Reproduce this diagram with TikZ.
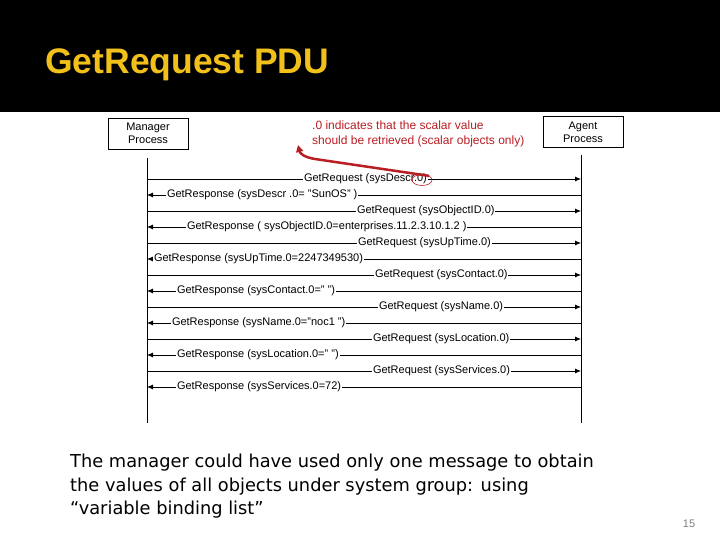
\documentclass[tikz,border=0pt]{standalone}
\usepackage{fontspec}
\setmainfont{Liberation Sans}
\newfontfamily\comicf{DejaVu Sans}
\usetikzlibrary{arrows.meta,shapes.geometric}
\definecolor{titleyellow}{RGB}{242,192,26}
\definecolor{annred}{RGB}{185,30,35}
\begin{document}
\begin{tikzpicture}[x=1pt,y=-1pt,
 box/.style={draw, line width=0.8pt, minimum width=80pt, minimum height=31pt, font=\fontsize{11}{13}\selectfont, align=center, inner sep=1pt},
 life/.style={line width=0.9pt},
 msg/.style={line width=0.8pt, -{Latex[length=6pt,width=5pt]}},
 lbl/.style={fill=white, inner sep=0.8pt, font=\fontsize{11}{13}\selectfont, anchor=west},
]
\useasboundingbox (0,0) rectangle (720,540);
\fill[white] (0,0) rectangle (720,540);
\fill[black] (0,0) rectangle (720,112);
\node[anchor=base west, text=titleyellow, font=\fontsize{35.5}{38}\selectfont\bfseries, inner sep=0] (title) at (45,74) {GetRequest PDU};

\node[box] (mgr) at (148,133.5) {Manager\\Process};
\node[box] (agt) at (583,132) {Agent\\Process};
\coordinate (mtop) at (147,158);
\coordinate (mbot) at (147,423);
\coordinate (atop) at (581,155);
\coordinate (abot) at (581,423);
\draw[life] (mtop) -- (mbot);
\draw[life] (atop) -- (abot);

\foreach \k/\y/\qa/\qb/\pa/\pb in {
 1/179/303/{GetRequest (sysDescr.0)}/166/{GetResponse (sysDescr .0= "SunOS" )},
 2/211/356/{GetRequest (sysObjectID.0)}/186/{GetResponse ( sysObjectID.0=enterprises.11.2.3.10.1.2 )},
 3/243/357/{GetRequest (sysUpTime.0)}/153/{GetResponse (sysUpTime.0=2247349530)},
 4/275/374/{GetRequest (sysContact.0)}/176/{GetResponse (sysContact.0=" ")},
 5/307/378/{GetRequest (sysName.0)}/171/{GetResponse (sysName.0="noc1 ")},
 6/339/372/{GetRequest (sysLocation.0)}/176/{GetResponse (sysLocation.0=" ")},
 7/371/372/{GetRequest (sysServices.0)}/176/{GetResponse (sysServices.0=72)}} {
 \pgfmathsetmacro\yy{\y+16}
 \coordinate (mq\k) at (147,\y);
 \coordinate (aq\k) at (581,\y);
 \coordinate (mp\k) at (147,\yy);
 \coordinate (ap\k) at (581,\yy);
 \draw[msg] (mq\k) -- (aq\k);
 \draw[msg] (ap\k) -- (mp\k);
 \node[lbl] (q\k) at (\qa,\y) {\qb};
 \node[lbl] (p\k) at (\pa,\yy) {\pb};
}

\node[anchor=west, text=annred, align=left, inner sep=0, font=\fontsize{12}{15}\selectfont] (ann) at (312,133.5) {.0 indicates that the scalar value\\should be retrieved (scalar objects only)};
\node[draw=annred, line width=0.6pt, ellipse, minimum width=20pt, minimum height=11pt, inner sep=0] (circ) at (422,180) {};
\coordinate (annpt) at (298,145);
\draw[annred, line width=2.5pt, -{Triangle[length=7pt,width=7pt]}] (circ.north east) -- (315,159) .. controls (303,157) and (300,153) .. (annpt);

\node[anchor=north west, align=left, inner sep=0, font=\comicf\fontsize{17.8}{23.5}\selectfont] (note) at (70,454) {The manager could have used only one message to obtain\\the values of all objects under system group: using\\“variable binding list”};
\node[text=gray, font=\fontsize{11}{12}\selectfont] (pg) at (689,524) {15};
\end{tikzpicture}
\end{document}
